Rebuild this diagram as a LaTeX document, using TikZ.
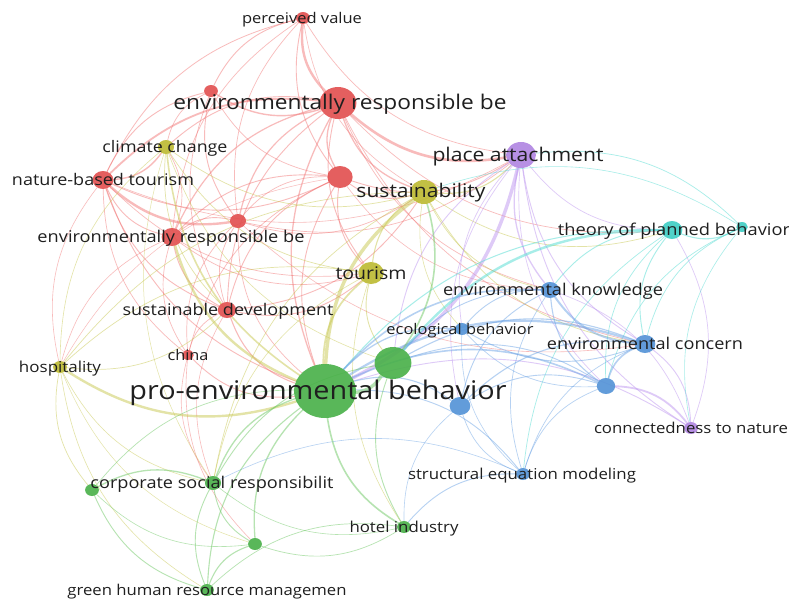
\documentclass[tikz,border=0pt]{standalone}
\usepackage{fontspec}
\setmainfont{Open Sans}[FakeStretch=1.12]
\usetikzlibrary{backgrounds,shapes.geometric}
\definecolor{cR}{RGB}{226,78,78}
\definecolor{cY}{RGB}{188,186,48}
\definecolor{cG}{RGB}{72,176,72}
\definecolor{cB}{RGB}{82,146,214}
\definecolor{cP}{RGB}{176,132,226}
\definecolor{cC}{RGB}{62,206,196}
\definecolor{eR}{RGB}{242,120,120}
\definecolor{eY}{RGB}{200,200,80}
\definecolor{eG}{RGB}{110,200,100}
\definecolor{eB}{RGB}{110,165,230}
\definecolor{eP}{RGB}{190,150,240}
\definecolor{eC}{RGB}{80,220,210}
\tikzset{
  dot/.style={ellipse, inner sep=0pt, draw=none, fill opacity=0.9},
  lnk/.style={draw opacity=0.5, line cap=round},
  lab/.style={inner sep=0pt, text=black!88, yshift=-2pt}
}
\newcommand{\lbl}[2]{\resizebox{#1pt}{!}{\strut #2}}
\begin{document}
\begin{tikzpicture}[x=1pt,y=-1pt]
\useasboundingbox (0,0) rectangle (789,600);
% nodes
\foreach \n/\x/\y/\r/\c in {
  pv/303/18/6/cR, r1/211/91/6/cR, erb/338/103/16/cR, nbt/103/180/9/cR,
  r2/340/177/11/cR, r3/238/221/7/cR, erb2/172/237/9/cR, sd/227/310/8/cR,
  china/188/355/5/cR,
  cc/166/147/7/cY, sus/424/192/12/cY, tour/371/273/11/cY, hosp/60/367/6/cY,
  pa/521/155/13/cP, ctn/691/428/6/cP,
  tpb/672/230/9/cC, c1/742/227/5/cC,
  ek/550/290/8/cB, eb/462/329/6/cB, ec/645/344/9/cB, b1/606/386/8/cB,
  b2/460/406/9/cB, sem/523/474/6/cB,
  peb/325/391/27/cG, g1/393/363/16/cG, csr/213/483/7/cG, g2/92/490/6/cG,
  g3/255/544/6/cG, hi/404/527/6/cG, ghrm/207/590/6/cG}
  \node[dot, fill=\c, minimum width={2.3*\r pt}, minimum height={2*\r pt}] (\n) at (\x,\y) {};
% edges
\begin{pgfonlayer}{background}
\fill[white] (0,0) rectangle (789,600);
\foreach \a/\b/\w in {
  pv/erb/2.4, pv/r1/0.9, pv/nbt/0.8, pv/r2/0.9, pv/pa/0.7, pv/erb2/0.7, pv/sus/0.6, pv/r3/0.7,
  r1/erb/1.4, r1/nbt/0.9, r1/r3/0.9, r1/sd/0.7, r1/r2/0.7, r1/cc/0.7,
  erb/nbt/1.8, erb/r2/1.3, erb/pa/2.6, erb/sus/1.3, erb/erb2/1.2, erb/r3/1.2, erb/peb/1.3,
  erb/tour/0.9, erb/tpb/0.7, erb/ek/0.7, erb/ec/0.7, erb/cc/0.9, erb/sd/0.9,
  nbt/cc/1.4, nbt/erb2/0.9, nbt/r3/2.4, nbt/sd/0.9, nbt/china/0.7, nbt/r2/0.9, nbt/peb/0.9,
  nbt/tour/0.7, nbt/pa/0.6, nbt/hosp/0.6,
  r2/sd/0.9, r2/erb2/0.9, r2/tour/0.9, r2/pa/0.9, r2/peb/0.9, r2/sus/0.9, r2/china/0.7,
  r2/r3/0.7, r2/ek/0.6, r2/hosp/0.5,
  r3/erb2/0.9, r3/sd/0.7, r3/pa/0.7, r3/sus/0.7, r3/china/0.7, r3/peb/0.7, r3/ec/0.6,
  erb2/sd/0.9, erb2/china/0.7, erb2/cc/0.7, erb2/tour/0.7, erb2/hosp/0.6,
  sd/china/0.7, sd/peb/1.1, sd/tour/0.9, sd/sus/0.9, sd/csr/0.6,
  china/peb/0.9, china/csr/0.6, china/g3/0.6}
  \draw[lnk, eR, line width=\w pt] (\a) to[bend right=25] (\b);
\foreach \a/\b/\w in {
  cc/peb/1.6, cc/sus/0.7, cc/tour/0.7, cc/hosp/0.6, cc/sd/0.7, cc/g1/0.6, cc/csr/0.5,
  sus/peb/3.4, sus/tour/1.1, sus/pa/1.1, sus/ek/0.7, sus/tpb/0.7, sus/ec/0.7, sus/hosp/0.7,
  sus/csr/0.7, sus/eb/0.6, erb2/peb/2.4,
  tour/peb/1.7, tour/g1/0.9, tour/hosp/0.7, tour/csr/0.6, tour/hi/0.6,
  hosp/peb/2.4, hosp/g2/0.7, hosp/csr/0.6, hosp/sd/0.7, hosp/ghrm/0.6, hosp/g3/0.5}
  \draw[lnk, eY, line width=\w pt] (\a) to[bend right=25] (\b);
\foreach \a/\b/\w in {
  peb/pa/3.4, pa/ek/1.3, pa/ctn/0.9, pa/tpb/0.7, pa/ec/0.9, pa/b1/0.7, pa/b2/0.7, pa/eb/0.7,
  pa/g1/0.9, ctn/b1/1.8, ctn/ec/0.9, ctn/peb/0.9, ctn/tpb/0.7, ctn/ek/0.7}
  \draw[lnk, eP, line width=\w pt] (\a) to[bend right=25] (\b);
\foreach \a/\b/\w in {
  tpb/c1/1.1, tpb/g1/2.4, tpb/peb/1.0, tpb/ec/0.9, tpb/ek/0.9, tpb/b1/0.7, tpb/sem/0.7,
  c1/ec/0.7, c1/pa/0.7, c1/b1/0.7, c1/sus/0.6, c1/ctn/0.6}
  \draw[lnk, eC, line width=\w pt] (\a) to[bend right=25] (\b);
\foreach \a/\b/\w in {
  ek/ec/2.0, ek/eb/0.9, ek/b1/1.1, ek/b2/0.9, ek/peb/1.6, ek/sem/0.7, ek/g1/0.9,
  eb/peb/1.3, eb/ec/0.9, eb/b1/0.7, eb/sem/0.6,
  ec/b1/1.6, ec/peb/2.2, ec/b2/1.1, ec/sem/0.7, ec/g1/1.1,
  b1/peb/1.6, b1/b2/0.9, b1/sem/0.7, b1/g1/0.9,
  b2/peb/1.1, b2/sem/0.7, b2/hi/0.6,
  sem/peb/0.9, sem/hi/0.9, sem/csr/0.6}
  \draw[lnk, eB, line width=\w pt] (\a) to[bend right=25] (\b);
\foreach \a/\b/\w in {
  peb/g1/3.4, peb/csr/1.3, peb/g3/1.3, peb/hi/1.6, peb/ghrm/1.1, peb/g2/0.7, g1/sus/1.6,
  g1/csr/0.9, g1/hi/0.9, csr/g2/1.3, csr/g3/0.9, csr/ghrm/0.9, csr/hi/0.6,
  g2/ghrm/0.9, g2/g3/0.6, g3/ghrm/1.1, g3/hi/0.7, hi/ghrm/0.7}
  \draw[lnk, eG, line width=\w pt] (\a) to[bend right=25] (\b);
\end{pgfonlayer}
% labels
\node[lab] (l-pv) at (302,18) {\lbl{120}{perceived value}};
\node[lab] (l-erb) at (340,103) {\lbl{333}{environmentally responsible be}};
\node[lab] (l-nbt) at (103,180) {\lbl{182}{nature-based tourism}};
\node[lab] (l-cc) at (165,147) {\lbl{125}{climate change}};
\node[lab] (l-erb2) at (171,237) {\lbl{267}{environmentally responsible be}};
\node[lab] (l-sd) at (228,310) {\lbl{211}{sustainable development}};
\node[lab] (l-china) at (188,355) {\lbl{41}{china}};
\node[lab] (l-sus) at (421,191) {\lbl{129}{sustainability}};
\node[lab] (l-tour) at (371,273) {\lbl{71}{tourism}};
\node[lab] (l-hosp) at (60,367) {\lbl{82}{hospitality}};
\node[lab] (l-pa) at (518,155) {\lbl{171}{place attachment}};
\node[lab] (l-tpb) at (674,230) {\lbl{232}{theory of planned behavior}};
\node[lab] (l-ek) at (553,290) {\lbl{220}{environmental knowledge}};
\node[lab] (l-eb) at (460,329) {\lbl{147}{ecological behavior}};
\node[lab] (l-ec) at (645,344) {\lbl{196}{environmental concern}};
\node[lab] (l-ctn) at (691,428) {\lbl{194}{connectedness to nature}};
\node[lab] (l-sem) at (522,474) {\lbl{228}{structural equation modeling}};
\node[lab] (l-hi) at (404,527) {\lbl{109}{hotel industry}};
\node[lab] (l-csr) at (212,483) {\lbl{243}{corporate social responsibilit}};
\node[lab] (l-ghrm) at (207,590) {\lbl{279}{green human resource managemen}};
\node[lab] (l-peb) at (318,391) {\lbl{377}{pro-environmental behavior}};
\end{tikzpicture}
\end{document}
